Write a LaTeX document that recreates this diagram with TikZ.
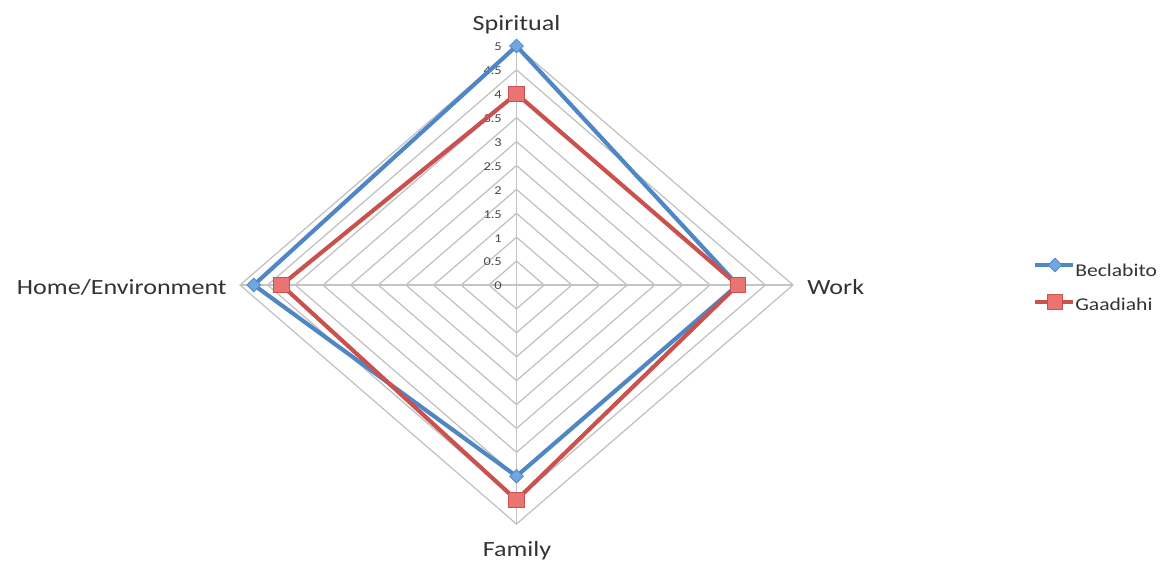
\documentclass[tikz,border=0pt]{standalone}
\usepackage{fontspec}
\setmainfont{Carlito}
\newfontfamily\chartfont[FakeStretch=1.2]{Carlito}
\usetikzlibrary{shapes.geometric}
\definecolor{gridgray}{HTML}{BFBFBF}
\definecolor{axisgray}{HTML}{C4C4C4}
\definecolor{bser}{HTML}{4F86C6}
\definecolor{bfill}{HTML}{6FA8E0}
\definecolor{rser}{HTML}{C9514E}
\definecolor{rfill}{HTML}{EA7471}
\definecolor{txt}{HTML}{333333}
\definecolor{ticktxt}{HTML}{484848}
\tikzset{
  gridline/.style={draw=gridgray, line width=0.9pt},
  axisline/.style={draw=axisgray, line width=1.4pt},
  bline/.style={draw=bser, line width=3.1pt, line join=round},
  rline/.style={draw=rser, line width=3.1pt, line join=round},
  bmark/.style={diamond, draw=bser, fill=bfill, line width=0.6pt, inner sep=0pt, minimum width=10.5pt, minimum height=10.5pt},
  rmark/.style={rectangle, draw=rser, fill=rfill, line width=0.6pt, inner sep=0pt, minimum width=11.5pt, minimum height=11pt},
  axlabel/.style={font=\chartfont\fontsize{16.3pt}{18pt}\selectfont, text=txt, inner sep=0pt},
  legtext/.style={font=\chartfont\fontsize{13.5pt}{16pt}\selectfont, text=txt, inner sep=0pt},
  ticklabel/.style={font=\chartfont\fontsize{9pt}{10pt}\selectfont, text=ticktxt, inner sep=0pt, anchor=east}
}
\begin{document}
\begin{tikzpicture}[x=0.75pt,y=-0.75pt]
\useasboundingbox (0,0) rectangle (1163,561);
\pgfmathsetmacro{\rcx}{516.5}
\pgfmathsetmacro{\rcy}{285}
\pgfmathsetmacro{\rsx}{55.3}
\pgfmathsetmacro{\rsy}{47.8}
% grid diamonds
\foreach \v in {0.5,1,1.5,2,2.5,3,3.5,4,4.5,5}{
  \draw[gridline] (\rcx,{\rcy-\v*\rsy}) -- ({\rcx+\v*\rsx},\rcy) -- (\rcx,{\rcy+\v*\rsy}) -- ({\rcx-\v*\rsx},\rcy) -- cycle;
}
% axes
\draw[axisline] (\rcx,{\rcy-5*\rsy}) -- (\rcx,{\rcy+5*\rsy});
\draw[axisline] ({\rcx-5*\rsx},\rcy) -- ({\rcx+5*\rsx},\rcy);
% tick labels
\foreach \v in {0,0.5,1,1.5,2,2.5,3,3.5,4,4.5,5}{
  \node[ticklabel] at (502,{\rcy-\v*\rsy+1}) {\v};
}
% data coordinates
\coordinate (bS) at (\rcx,{\rcy-5*\rsy});
\coordinate (bW) at ({\rcx+4*\rsx},\rcy);
\coordinate (bF) at (\rcx,{\rcy+4*\rsy});
\coordinate (bH) at ({\rcx-4.75*\rsx},\rcy);
\coordinate (rS) at (\rcx,{\rcy-4*\rsy});
\coordinate (rW) at ({\rcx+4*\rsx},\rcy);
\coordinate (rF) at (\rcx,{\rcy+4.5*\rsy});
\coordinate (rH) at ({\rcx-4.25*\rsx},\rcy);
% Beclabito
\draw[bline] (bS) -- (bW) -- (bF) -- (bH) -- cycle;
\foreach \p in {bS,bW,bF,bH}{ \node[bmark] (m\p) at (\p) {}; }
% Gaadiahi
\draw[rline] (rS) -- (rW) -- (rF) -- (rH) -- cycle;
\foreach \p in {rS,rW,rF,rH}{ \node[rmark] (m\p) at (\p) {}; }
% axis labels
\node[axlabel, anchor=base] (spir) at (516.5,30) {Spiritual};
\node[axlabel, anchor=base west] (work) at (807,294) {Work};
\node[axlabel, anchor=base east] (home) at (227,294) {Home/Environment};
\node[axlabel, anchor=base] (fam) at (517,556) {Family};
% legend
\coordinate (lb1) at (1035,265);
\coordinate (lb2) at (1073,265);
\draw[bline] (lb1) -- (lb2);
\node[bmark] (lbm) at (1055,265) {};
\node[legtext, anchor=base west] (lbt) at (1075,276) {Beclabito};
\coordinate (lr1) at (1035,302);
\coordinate (lr2) at (1073,302);
\draw[rline] (lr1) -- (lr2);
\node[rmark] (lrm) at (1055,302) {};
\node[legtext, anchor=base west] (lrt) at (1075,310) {Gaadiahi};
\end{tikzpicture}
\end{document}
